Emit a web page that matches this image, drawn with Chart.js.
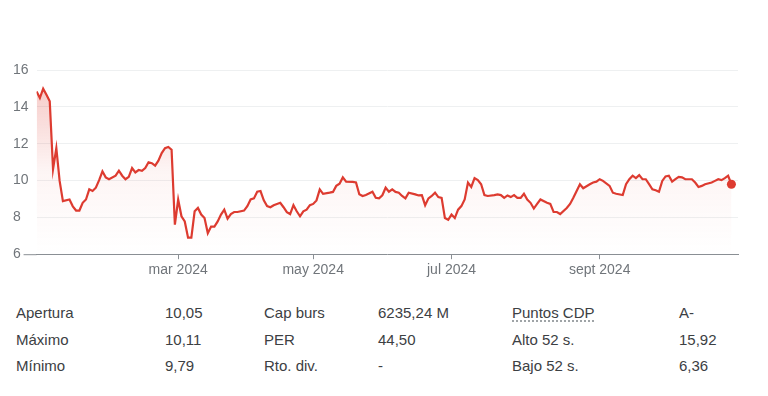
<!DOCTYPE html>
<html lang="es">
<head>
<meta charset="utf-8">
<script src="https://cdn.jsdelivr.net/npm/chart.js@4.4.1/dist/chart.umd.min.js"></script>
<style>
    html, body { margin: 0; padding: 0; background: #fff; }
    body { width: 768px; height: 396px; position: relative; overflow: hidden;
           font-family: Arial, 'Liberation Sans', sans-serif; }
    #chartBox { position: absolute; left: 0; top: 0; width: 768px; height: 285px; }
    .cell { position: absolute; font-size: 15px; line-height: 18px; color: #3c4043; white-space: nowrap; }
    .dotted { text-decoration: underline dotted #80868b; text-underline-offset: 3px; }
</style>
</head>
<body>
<div id="chartBox"><canvas id="stockChart"></canvas></div>
<div id="stats"></div>
<script>
// trading day index since 2 Jan 2024, and closing price (EUR)
const days = [0, 1, 2, 3, 4, 5, 6, 7, 8, 10, 11, 12, 13, 14, 15, 16, 17, 18, 19, 20,
    21, 22, 24, 25, 26, 27, 28, 29, 30, 31, 32, 33, 34, 35, 36, 37, 38, 39, 40, 41,
    42, 43, 44, 45, 46, 47, 48, 49, 50, 51, 52, 53, 54, 55, 56, 57, 58, 59, 60, 61,
    63, 64, 65, 66, 67, 68, 69, 70, 71, 72, 74, 75, 76, 77, 78, 79, 80, 81, 82, 83,
    84, 85, 86, 87, 89, 90, 91, 92, 93, 94, 96, 97, 98, 99, 100, 102, 103, 104, 105, 106,
    107, 108, 109, 110, 111, 112, 113, 115, 116, 117, 118, 119, 120, 121, 122, 123, 124, 125, 126, 127,
    128, 129, 130, 131, 132, 133, 134, 135, 136, 137, 139, 140, 141, 142, 143, 144, 145, 146, 147, 148,
    149, 150, 151, 152, 153, 155, 156, 157, 158, 159, 161, 162, 163, 164, 165, 166, 168, 169, 170, 171,
    172, 174, 175, 176, 178, 179, 180, 181, 182, 183, 184, 185, 186, 187, 188, 189, 190, 191, 192, 193,
    194, 195, 196, 197, 199, 200, 201, 202, 203, 205, 206, 207, 208, 209, 210, 211];
const prices = [14.84, 14.48, 14.99, 14.66, 14.30, 10.62, 11.76, 9.98, 8.88, 8.97, 8.60, 8.37, 8.37, 8.79, 8.97, 9.52, 9.43, 9.61, 10.02, 10.50,
    10.17, 10.07, 10.26, 10.53, 10.26, 10.07, 10.20, 10.68, 10.44, 10.57, 10.53, 10.68, 10.99, 10.94, 10.81, 11.08, 11.49, 11.76, 11.82, 11.67,
    7.60, 8.97, 8.06, 7.78, 6.90, 6.90, 8.33, 8.51, 8.15, 7.96, 7.14, 7.50, 7.50, 7.78, 8.15, 8.42, 7.93, 8.18, 8.29, 8.29,
    8.37, 8.61, 8.97, 9.03, 9.39, 9.43, 8.92, 8.61, 8.55, 8.66, 8.79, 8.55, 8.28, 8.18, 8.66, 8.33, 8.06, 8.33, 8.42, 8.66,
    8.73, 8.92, 9.52, 9.28, 9.34, 9.38, 9.71, 9.83, 10.17, 9.94, 9.93, 9.89, 9.25, 9.16, 9.21, 9.39, 9.06, 9.03, 9.20, 9.61,
    9.39, 9.52, 9.38, 9.34, 9.16, 9.03, 9.34, 9.25, 9.19, 9.21, 8.66, 9.03, 9.16, 9.34, 9.10, 9.06, 7.96, 7.87, 8.15, 7.96,
    8.42, 8.61, 8.97, 9.89, 9.65, 10.13, 10.02, 9.80, 9.21, 9.16, 9.21, 9.25, 9.21, 9.06, 9.19, 9.10, 9.21, 9.06, 9.06, 9.28,
    8.97, 8.79, 8.48, 8.73, 8.97, 8.79, 8.73, 8.29, 8.29, 8.18, 8.51, 8.73, 9.06, 9.43, 9.80, 9.58, 9.80, 9.89, 9.94, 10.07,
    9.98, 9.71, 9.34, 9.28, 9.21, 9.80, 10.07, 10.26, 10.13, 10.29, 10.07, 10.07, 9.80, 9.52, 9.47, 9.39, 9.98, 10.22, 10.26, 9.94,
    10.07, 10.20, 10.17, 10.07, 10.07, 9.89, 9.65, 9.71, 9.80, 9.89, 9.98, 10.07, 10.02, 10.13, 10.26, 9.80];

// month starts (trading day index) and their labels
const monthTicks = [43, 84, 126, 171];
const monthLabels = ['mar 2024', 'may 2024', 'jul 2024', 'sept 2024'];
const yTicks = [6, 8, 10, 12, 14, 16];

const statNames = [['Apertura', 'Máximo', 'Mínimo'], ['Cap burs', 'PER', 'Rto. div.'], ['Puntos CDP', 'Alto 52 s.', 'Bajo 52 s.']];
const statValues = [['10,05', '10,11', '9,79'], ['6235,24 M', '44,50', '-'], ['A-', '15,92', '6,36']];

const red = '#dd3b30';
const grey = '#70757a';

document.addEventListener('DOMContentLoaded', function () {
    const ctx = document.getElementById('stockChart').getContext('2d');

    // baseline runs a bit to the left of the plot, under the "6"
    const baselinePlugin = {
        id: 'baseline',
        afterDraw(chart) {
            const a = chart.chartArea;
            const c = chart.ctx;
            c.save();
            c.strokeStyle = '#8a8f94';
            c.lineWidth = 1;
            c.beginPath();
            c.moveTo(a.left - 13, a.bottom + 0.5);
            c.lineTo(a.left, a.bottom + 0.5);
            c.stroke();
            c.restore();
        }
    };

    new Chart(ctx, {
        type: 'line',
        data: {
            datasets: [{
                data: days.map((d, i) => ({ x: d, y: prices[i] })),
                borderColor: red,
                borderWidth: 2.2,
                tension: 0,
                fill: 'start',
                backgroundColor: function (context) {
                    const area = context.chart.chartArea;
                    if (!area) return 'rgba(221, 59, 48, 0.1)';
                    const g = context.chart.ctx.createLinearGradient(0, area.top, 0, area.bottom);
                    g.addColorStop(0, 'rgba(221, 59, 48, 0.30)');
                    g.addColorStop(0.55, 'rgba(221, 59, 48, 0.05)');
                    g.addColorStop(1, 'rgba(221, 59, 48, 0)');
                    return g;
                },
                pointRadius: ctx => ctx.dataIndex === prices.length - 1 ? 4.5 : 0,
                pointBackgroundColor: red,
                pointBorderWidth: 0,
                pointHoverRadius: 0
            }]
        },
        options: {
            responsive: true,
            maintainAspectRatio: false,
            animation: false,
            layout: { padding: { top: 70, right: 30, left: 13, bottom: 3 } },
            plugins: {
                legend: { display: false },
                tooltip: { enabled: false }
            },
            scales: {
                x: {
                    type: 'linear',
                    min: 0,
                    max: 213,
                    afterBuildTicks: axis => { axis.ticks = monthTicks.map(v => ({ value: v })); },
                    ticks: {
                        autoSkip: false,
                        maxRotation: 0,
                        padding: 3,
                        color: grey,
                        font: { family: "Arial, 'Liberation Sans', sans-serif", size: 14 },
                        callback: v => monthLabels[monthTicks.indexOf(v)]
                    },
                    grid: { drawOnChartArea: false, drawTicks: true, tickLength: 5, color: '#8a8f94' },
                    border: { display: true, color: '#8a8f94' }
                },
                y: {
                    min: 6,
                    max: 16,
                    afterBuildTicks: axis => { axis.ticks = yTicks.map(v => ({ value: v })); },
                    ticks: {
                        padding: 4,
                        crossAlign: 'far',
                        color: grey,
                        font: { family: "Arial, 'Liberation Sans', sans-serif", size: 14 }
                    },
                    grid: { color: '#eef0f1', drawTicks: false },
                    border: { display: false }
                }
            }
        },
        plugins: [baselinePlugin]
    });

    // key stats table under the chart
    const nameX = [16, 264, 512];
    const valueX = [165, 378, 679];
    const rowY = [304, 331, 357];
    const stats = document.getElementById('stats');
    statNames.forEach((col, c) => {
        col.forEach((name, r) => {
            const n = document.createElement('div');
            n.className = 'cell' + (name === 'Puntos CDP' ? ' dotted' : '');
            n.style.left = nameX[c] + 'px';
            n.style.top = rowY[r] + 'px';
            n.textContent = name;
            stats.appendChild(n);

            const v = document.createElement('div');
            v.className = 'cell';
            v.style.left = valueX[c] + 'px';
            v.style.top = rowY[r] + 'px';
            v.textContent = statValues[c][r];
            stats.appendChild(v);
        });
    });
});
</script>
</body>
</html>
